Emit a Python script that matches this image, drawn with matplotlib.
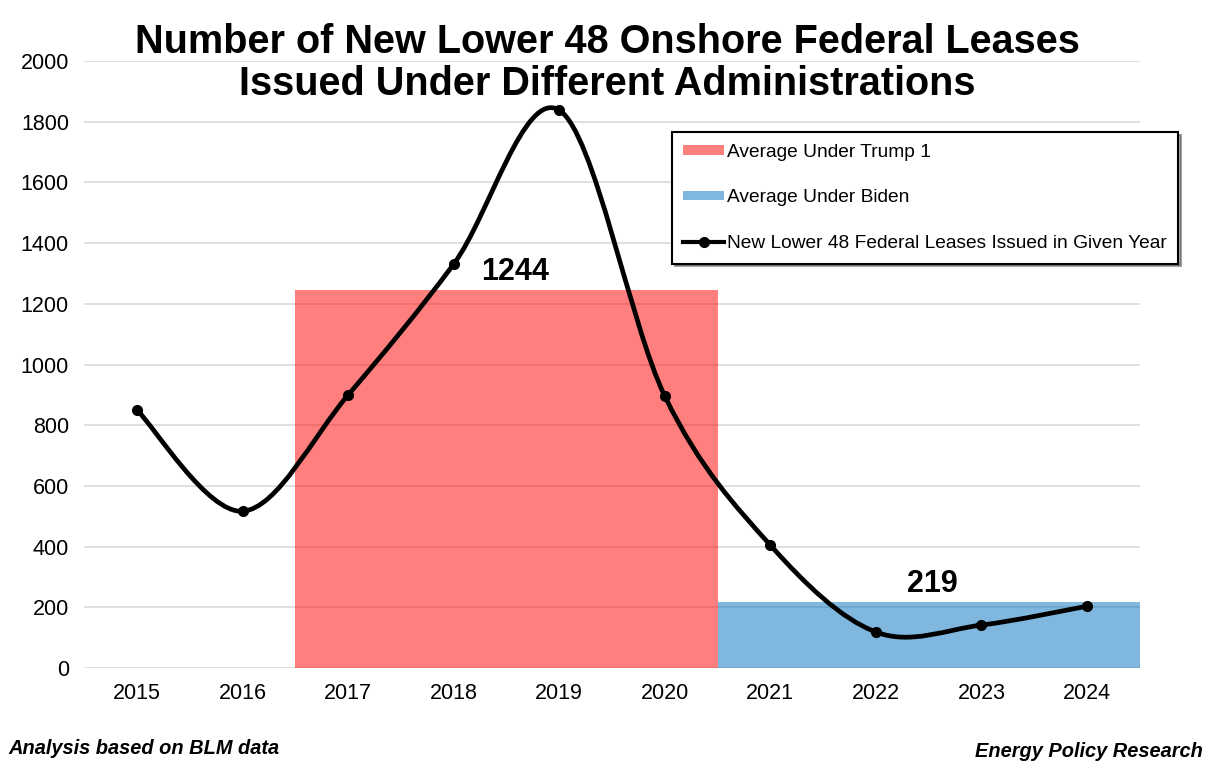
import matplotlib.pyplot as plt
import numpy as np
from matplotlib.path import Path
from matplotlib.patches import PathPatch, Patch
from matplotlib.lines import Line2D

plt.rcParams['font.family'] = ['Liberation Sans', 'DejaVu Sans']

years = ['2015', '2016', '2017', '2018', '2019', '2020', '2021', '2022', '2023', '2024']
leases = [850, 517, 900, 1331, 1838, 896, 405, 119, 142, 204]
trump_years = ['2017', '2018', '2019', '2020']
biden_years = ['2021', '2022', '2023', '2024']
trump_avg = 1244
biden_avg = 219

fig = plt.figure(figsize=(12.14, 7.68), dpi=100)
ax = fig.add_axes([0.0694, 0.130, 0.8695, 0.7906])

x = np.arange(len(years))
ti = [years.index(y) for y in trump_years]
bi = [years.index(y) for y in biden_years]

# average bars span the whole administration
ax.bar(np.mean(ti), trump_avg, width=len(ti), color='#ff0000', alpha=0.5, zorder=2)
ax.bar(np.mean(bi), biden_avg, width=len(bi), color='#0070c0', alpha=0.5, zorder=2)
ax.text(np.mean(ti) + 0.08, trump_avg + 10, str(trump_avg), ha='center', va='bottom',
        fontsize=22, fontweight='bold')
ax.text(np.mean(bi) + 0.03, biden_avg + 10, str(biden_avg), ha='center', va='bottom',
        fontsize=22, fontweight='bold')

# smoothed line through the points (Catmull-Rom style, like Excel)
pts = np.column_stack([x, leases]).astype(float)
verts = [pts[0]]
codes = [Path.MOVETO]
n = len(pts)
for i in range(n - 1):
    p0 = pts[max(i - 1, 0)]
    p1 = pts[i]
    p2 = pts[i + 1]
    p3 = pts[min(i + 2, n - 1)]
    c1 = p1 + (p2 - p0) / 6
    c2 = p2 - (p3 - p1) / 6
    verts += [c1, c2, p2]
    codes += [Path.CURVE4] * 3
ax.add_patch(PathPatch(Path(verts, codes), fill=False, edgecolor='black', lw=3.4,
                       zorder=4, capstyle='round'))
ax.plot(x, leases, 'o', color='black', markersize=7, zorder=5)

ax.set_xlim(-0.5, len(years) - 0.5)
ax.set_ylim(0, 2000)
ax.set_yticks(np.arange(0, 2001, 200))
ax.set_xticks(x)
ax.set_xticklabels(years)
ax.tick_params(axis='both', length=0, labelsize=15.5)
ax.tick_params(axis='x', pad=11)
ax.tick_params(axis='y', pad=11)
ax.grid(axis='y', color='#d9d9d9', lw=1.2, zorder=1)
ax.set_axisbelow(True)
for s in ax.spines.values():
    s.set_visible(False)

handles = [Patch(facecolor='#ff7f7f', edgecolor='none'),
           Patch(facecolor='#7fb7df', edgecolor='none'),
           Line2D([], [], color='black', lw=3, marker='o', markersize=7)]
labels = ['Average Under Trump 1', 'Average Under Biden',
          'New Lower 48 Federal Leases Issued in Given Year']
leg = fig.legend(handles, labels, loc='upper left', bbox_to_anchor=(0.5535, 0.828),
                 fontsize=13.8, frameon=True, fancybox=False, shadow=True,
                 edgecolor='black', framealpha=1, labelspacing=1.5,
                 handlelength=2.1, handleheight=0.4, handletextpad=0.15,
                 borderpad=0.6, borderaxespad=0)
leg.get_frame().set_linewidth(1.5)

fig.text(0.5, 0.97, 'Number of New Lower 48 Onshore Federal Leases\nIssued Under Different Administrations',
         ha='center', va='top', fontsize=28.5, fontweight='bold', linespacing=1.12)
fig.text(0.007, 0.026, 'Analysis based on BLM data', ha='left', va='center',
         fontsize=14.4, fontweight='bold', style='italic')
fig.text(0.991, 0.021, 'Energy Policy Research', ha='right', va='center',
         fontsize=14.4, fontweight='bold', style='italic')

fig.savefig('out.png', dpi=100)
